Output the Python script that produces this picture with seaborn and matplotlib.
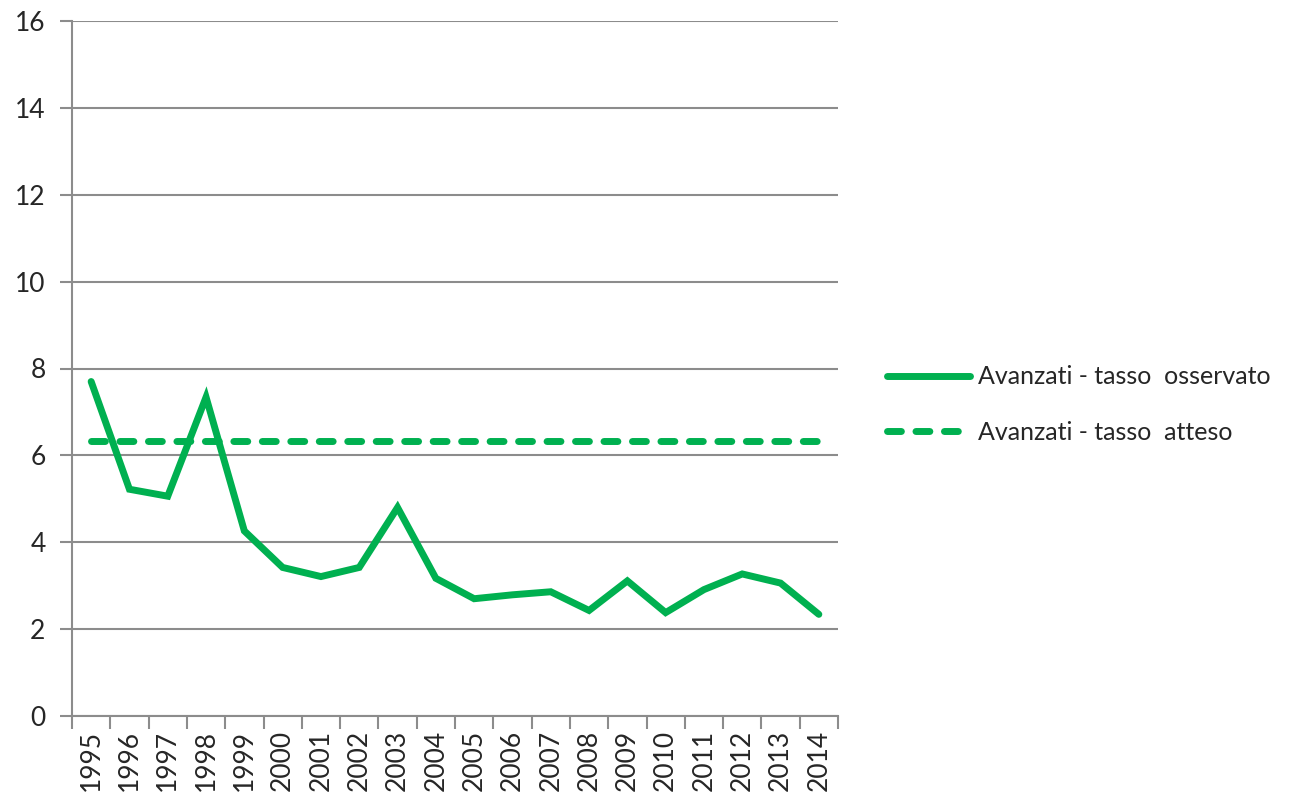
import matplotlib
matplotlib.use("Agg")
import matplotlib.pyplot as plt
import seaborn as sns
import pandas as pd
import numpy as np
from matplotlib.ticker import FixedLocator, MultipleLocator

years = [str(y) for y in range(1995, 2015)]
observed = [7.70, 5.22, 5.06, 7.34, 4.26, 3.42, 3.21, 3.42, 4.80, 3.17,
            2.70, 2.79, 2.86, 2.43, 3.11, 2.38, 2.91, 3.27, 3.06, 2.34]
expected = [6.33] * 20
series_names = ["Avanzati - tasso  osservato", "Avanzati - tasso  atteso"]

sns.set_theme(style="white")
plt.rcParams['font.family'] = ['Lato', 'DejaVu Sans']

green = "#00B050"
grid_c = "#8c8c8c"

fig = plt.figure(figsize=(13.01, 8.0), dpi=100)
ax = fig.add_axes([72/1301, 1-716/800, (838-72)/1301, (716-21)/800])

df = pd.DataFrame({"x": np.arange(len(years)), "obs": observed, "exp": expected})
sns.lineplot(data=df, x="x", y="obs", ax=ax, color=green, linewidth=5,
             label=series_names[0], solid_capstyle="round", solid_joinstyle="miter")
sns.lineplot(data=df, x="x", y="exp", ax=ax, color=green, linewidth=5,
             label=series_names[1], dash_capstyle="round")
ax.lines[1].set_dashes((2.0, 2.1))
ax.lines[1].set_dash_capstyle("round")

ax.set_xlim(-0.5, len(years) - 0.5)
ax.set_ylim(0, 16)
ax.yaxis.set_major_locator(MultipleLocator(2))
ax.set_xticks(np.arange(len(years)))
ax.set_xticklabels(years, rotation=90, fontsize=19)
ax.xaxis.set_minor_locator(FixedLocator(np.arange(-0.5, len(years), 1.0)))
ax.tick_params(axis="x", which="major", length=0, pad=10)
ax.tick_params(axis="x", which="minor", length=9, width=1.5, color=grid_c, direction="out", bottom=True)
ax.tick_params(axis="y", which="major", length=9, width=1.5, color=grid_c, direction="out", left=True,
               labelsize=19, pad=10)
ax.set_xlabel("")
ax.set_ylabel("")
ax.grid(axis="y", color=grid_c, linewidth=1.5)
ax.set_axisbelow(True)
for s in ["top", "right"]:
    ax.spines[s].set_visible(False)
for s in ["left", "bottom"]:
    ax.spines[s].set_color(grid_c)
    ax.spines[s].set_linewidth(1.5)

ax.get_legend().remove()
handles, labels = ax.get_legend_handles_labels()
fig.legend(handles, labels, loc="upper left", bbox_to_anchor=(864/1301, 1-343/800),
           frameon=False, fontsize=18, handlelength=3.35, handletextpad=0.3,
           labelspacing=1.3)

fig.savefig("out.png", dpi=100)
